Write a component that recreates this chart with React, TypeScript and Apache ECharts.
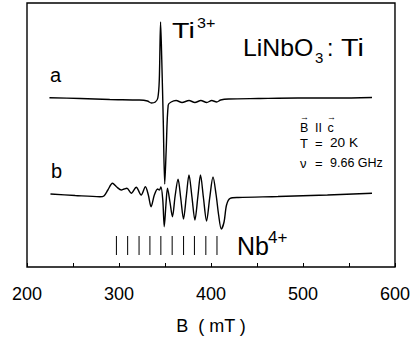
import React, { useEffect, useRef } from "react";
import * as echarts from "echarts";

// Magnetic field (mT) and signal (arbitrary units)
const traceA_B = [224.4, 257.8, 290.0, 322.3, 330.9, 335.2, 339.5, 342.2, 343.8, 345.2, 346.5, 348.1, 349.7, 351.3, 353.5, 356.7, 362.1, 368.5, 376.1, 382.5, 389.0, 395.4, 400.8, 406.2, 410.5, 419.1, 451.4, 494.4, 537.4, 575.0];
const traceA_I = [169.3, 168.5, 167.5, 167, 166, 164, 165, 169, 187, 245, 207, 147, 83, 117, 162, 165, 166.5, 164.5, 166.5, 164.5, 166.5, 164.5, 166.5, 165, 167, 168, 168.5, 169, 169, 169.5];

const traceB_B = [225.5, 252.4, 279.3, 283.6, 287.9, 292.9, 297.5, 302.6, 305.6, 308.6, 313.4, 318.7, 324.1, 328.7, 331.9, 334.9, 338.4, 342.0, 343.8, 345.6, 347.6, 349.2, 351.0, 352.7, 355.4, 358.1, 361.0, 364.2, 367.1, 370.1, 373.2, 376.1, 379.3, 382.5, 385.8, 388.6, 391.7, 395.2, 398.6, 402.2, 405.6, 408.3, 411.2, 414.2, 416.9, 420.9, 429.8, 472.8, 526.6, 575.0];
const traceB_I = [73, 71.5, 70.3, 71, 77, 83.7, 80, 77, 78, 78.7, 73.7, 79.7, 72, 80.3, 72, 60.3, 72, 78, 77, 80, 67, 40.3, 62, 78.7, 65, 50.3, 71, 87.7, 69, 48, 71, 92, 70, 47, 71, 92, 70, 46, 69, 90, 72, 52, 38, 45, 62, 68.7, 69.5, 70.5, 72, 73.7];

// Nb4+ hyperfine stick positions (mT)
const nbSticks = [297.2, 309.4, 321.8, 333.6, 345.5, 357.8, 370.2, 382.0, 394.4, 406.5];
const stickLow = 12;
const stickHigh = 31;

const xTicks = [200, 300, 400, 500, 600];

const FONT = "'Liberation Sans', Arial, Helvetica, sans-serif";

export default function App() {
  const ref = useRef<HTMLDivElement>(null);
  useEffect(() => {
    if (!ref.current) return;
    const chart = echarts.init(ref.current, undefined, { renderer: "svg" });
    const lineStyle = { color: "#000", width: 1.4 };
    const txt = (text: string, x: number, y: number, size: number, sx = 1) => ({
      type: "text",
      x,
      y,
      scaleX: sx,
      style: {
        text,
        fontSize: size,
        fontFamily: FONT,
        fill: "#000",
        align: "left",
        verticalAlign: "middle",
      },
    });
    chart.setOption({
      animation: false,
      backgroundColor: "#fff",
      grid: {
        left: 27,
        right: 16,
        top: 3,
        bottom: 80,
        show: true,
        borderColor: "#000",
        borderWidth: 1.4,
      },
      xAxis: {
        type: "value",
        min: 200,
        max: 600,
        interval: 50,
        name: "B\u00a0\u00a0( mT )",
        nameLocation: "middle",
        nameGap: 50,
        nameTextStyle: { fontSize: 18, fontFamily: FONT, color: "#000" },
        axisLine: { show: false },
        axisTick: { show: true, inside: true, length: 4, lineStyle: { color: "#000", width: 1 } },
        axisLabel: {
          margin: 18,
          fontSize: 18,
          fontFamily: FONT,
          color: "#000",
          formatter: (v: number) => (xTicks.includes(v) ? String(v) : ""),
        },
        splitLine: { show: false },
      },
      yAxis: {
        type: "value",
        min: 0,
        max: 264,
        show: false,
        splitLine: { show: false },
      },
      series: [
        {
          type: "line",
          data: traceA_B.map((b, i) => [b, traceA_I[i]]),
          showSymbol: false,
          smooth: 0.3,
          lineStyle,
        },
        {
          type: "line",
          data: traceB_B.map((b, i) => [b, traceB_I[i]]),
          showSymbol: false,
          smooth: 0.3,
          lineStyle,
        },
        {
          type: "custom",
          data: nbSticks.map((b) => [b, stickLow, stickHigh]),
          renderItem: (params: any, api: any) => {
            const p1 = api.coord([api.value(0), api.value(1)]);
            const p2 = api.coord([api.value(0), api.value(2)]);
            return {
              type: "line",
              shape: { x1: p1[0], y1: p1[1], x2: p2[0], y2: p2[1] },
              style: { stroke: "#000", lineWidth: 1 },
            };
          },
        },
      ],
      graphic: [
        txt("a", 50, 75, 20),
        txt("b", 51, 171, 20),
        txt("Ti", 172, 30.5, 22, 1.3),
        txt("3+", 197, 22.5, 14, 1.15),
        txt("LiNbO", 243, 48, 23, 1.08),
        txt("3", 315, 57.5, 15),
        txt(":", 327, 48, 23),
        txt("Ti", 341, 48, 23, 1.25),
        txt("\u2192", 300, 117, 9),
        txt("\u2192", 327, 117, 9),
        txt("B", 300, 128, 12.5),
        txt("II", 315, 128, 12.5),
        txt("c", 327.5, 128, 12.5),
        txt("T", 300, 143, 13),
        txt("=", 315, 143, 13),
        txt("20 K", 330, 143, 13, 1.05),
        txt("\u03bd", 300, 163, 13),
        txt("=", 315, 163, 13),
        txt("9.66 GHz", 330, 163, 12.5),
        txt("Nb", 237, 246, 25),
        txt("4+", 268, 237.5, 17),
      ],
    });
    return () => chart.dispose();
  }, []);
  return (
    <div
      ref={ref}
      style={{ position: "fixed", left: 0, top: 0, width: 413, height: 347 }}
    />
  );
}
